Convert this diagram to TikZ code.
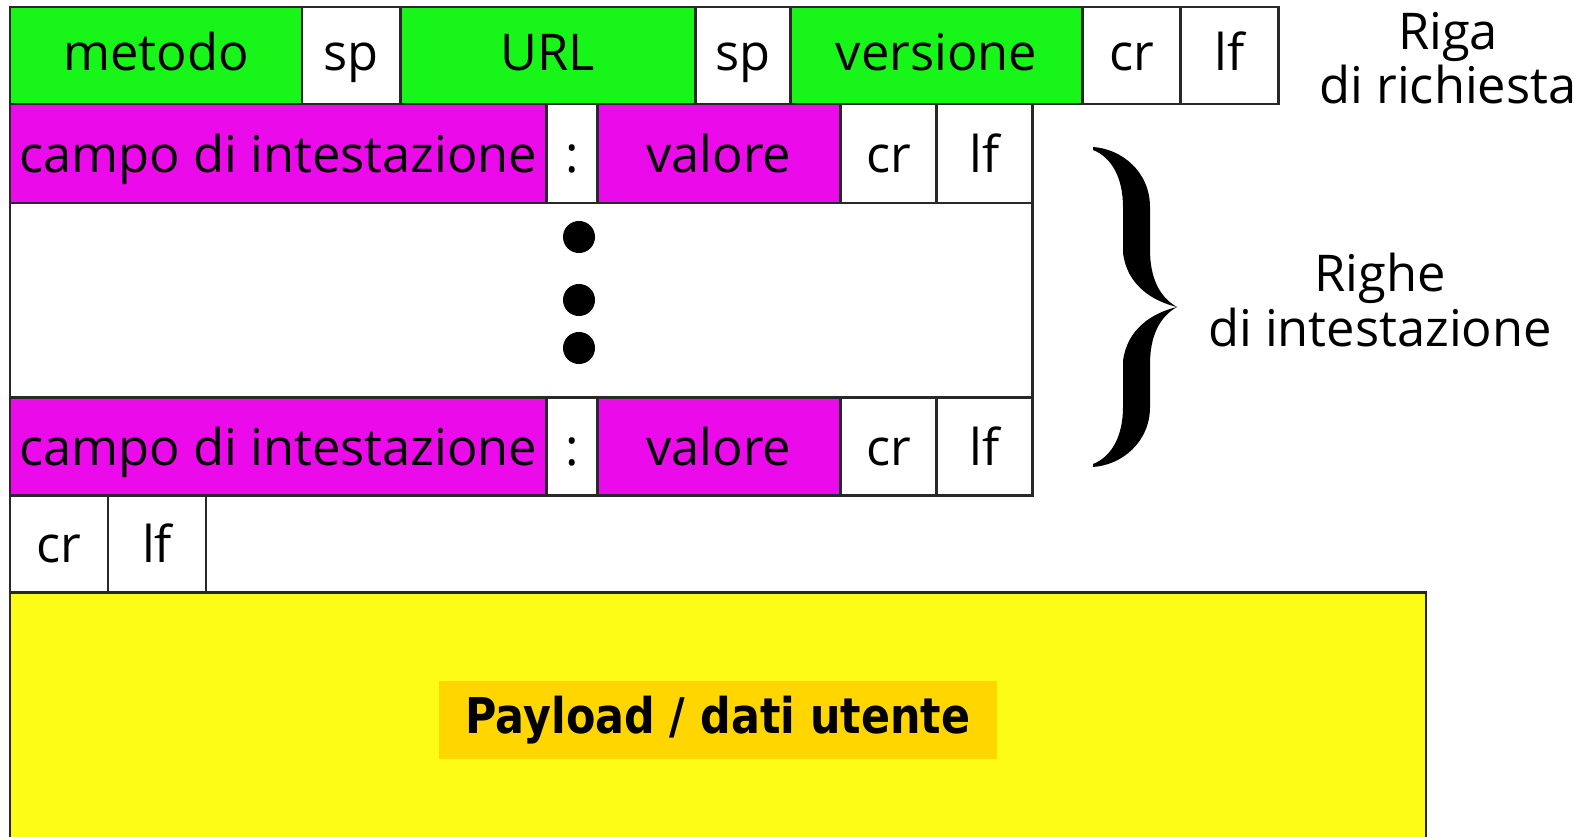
\documentclass[tikz,border=0pt]{standalone}
\usepackage{fontspec}
\usepackage{tikz}
\usetikzlibrary{positioning}
\newfontfamily\labelfont{Open Sans}
\newfontfamily\payfont[FakeStretch=0.87]{DejaVu Sans}
\definecolor{verde}{RGB}{24,245,24}
\definecolor{viola}{RGB}{234,10,234}
\definecolor{giallo}{RGB}{252,252,22}
\definecolor{oro}{RGB}{255,214,0}
\definecolor{bordo}{RGB}{40,40,40}

\begin{document}
\begin{tikzpicture}[x=0.01cm, y=-0.01cm, node distance=0pt, font=\labelfont\fontsize{14.4pt}{15.5pt}\selectfont]
	\tikzstyle{cell}=[draw=bordo, line width=0.75pt, inner sep=0pt, outer sep=0pt, minimum height=0.97cm, text height=0.42cm, text depth=0.04cm, fill=white]
	\tikzstyle{alta}=[cell, text depth=0.12cm]
	\tikzstyle{nota}=[align=center, inner sep=0pt]
	\useasboundingbox (0,0) rectangle (1588,837);

	% riga di richiesta
	\node[alta,fill=verde,minimum width=2.92cm,anchor=north west] (metodo) at (10,7) {metodo};
	\node[alta,minimum width=0.98cm] (sp1) [right=of metodo] {sp};
	\node[alta,fill=verde,minimum width=2.95cm] (url) [right=of sp1] {URL};
	\node[alta,minimum width=0.95cm] (sp2) [right=of url] {sp};
	\node[alta,fill=verde,minimum width=2.92cm] (versione) [right=of sp2] {versione};
	\node[alta,minimum width=0.98cm] (cr1) [right=of versione] {cr};
	\node[alta,minimum width=0.98cm] (lf1) [right=of cr1] {lf};

	% righe di intestazione
	\node[cell,fill=viola,minimum width=5.36cm,minimum height=0.99cm,anchor=north west] (campo1) at (metodo.south west) {campo di intestazione};
	\node[cell,minimum width=0.51cm,minimum height=0.99cm] (due1) [right=of campo1] {:};
	\node[cell,fill=viola,minimum width=2.43cm,minimum height=0.99cm] (valore1) [right=of due1] {valore};
	\node[cell,minimum width=0.96cm,minimum height=0.99cm] (cr2) [right=of valore1] {cr};
	\node[cell,minimum width=0.96cm,minimum height=0.99cm] (lf2) [right=of cr2] {lf};

	\node[cell,minimum width=10.22cm,minimum height=1.94cm,anchor=north west] (vuoto) at (campo1.south west) {};
	\foreach \y in {237,300,348}
		\fill (579,\y) circle (0.16cm);

	\node[cell,fill=viola,minimum width=5.36cm,minimum height=0.98cm,anchor=north west] (campo2) at (vuoto.south west) {campo di intestazione};
	\node[cell,minimum width=0.51cm,minimum height=0.98cm] (due2) [right=of campo2] {:};
	\node[cell,fill=viola,minimum width=2.43cm,minimum height=0.98cm] (valore2) [right=of due2] {valore};
	\node[cell,minimum width=0.96cm,minimum height=0.98cm] (cr3) [right=of valore2] {cr};
	\node[cell,minimum width=0.96cm,minimum height=0.98cm] (lf3) [right=of cr3] {lf};

	% riga vuota
	\node[cell,minimum width=0.98cm,anchor=north west] (cr4) at (campo2.south west) {cr};
	\node[cell,minimum width=0.98cm] (lf4) [right=of cr4] {lf};

	% corpo
	\node[cell,fill=giallo,minimum width=14.15cm,minimum height=2.56cm,anchor=north west] (dati) at (cr4.south west) {};
	\node[fill=oro,minimum width=5.57cm,minimum height=0.78cm,inner sep=0pt,font=\payfont\bfseries\fontsize{14pt}{15pt}\selectfont] (payload) at (dati.center) {Payload / dati utente};

	% etichette
	\node[nota] (riga) at (1448,58) {Riga\\di richiesta};
	\begin{scope}[shift={(1177,307)}]
		\foreach \s in {1,-1}
			\fill[yscale=\s] (-84,-160) .. controls (-55,-158) and (-27,-135) .. (-27,-100) -- (-27,-57) .. controls (-27,-30) and (-18,-10) .. (0,0)
				.. controls (-25,-6) and (-50,-22) .. (-54,-54) -- (-54,-100) .. controls (-54,-130) and (-66,-150) .. (-84,-157) -- cycle;
	\end{scope}
	\node[nota] (righe) at (1380,300) {Righe\\di intestazione};
\end{tikzpicture}
\end{document}
